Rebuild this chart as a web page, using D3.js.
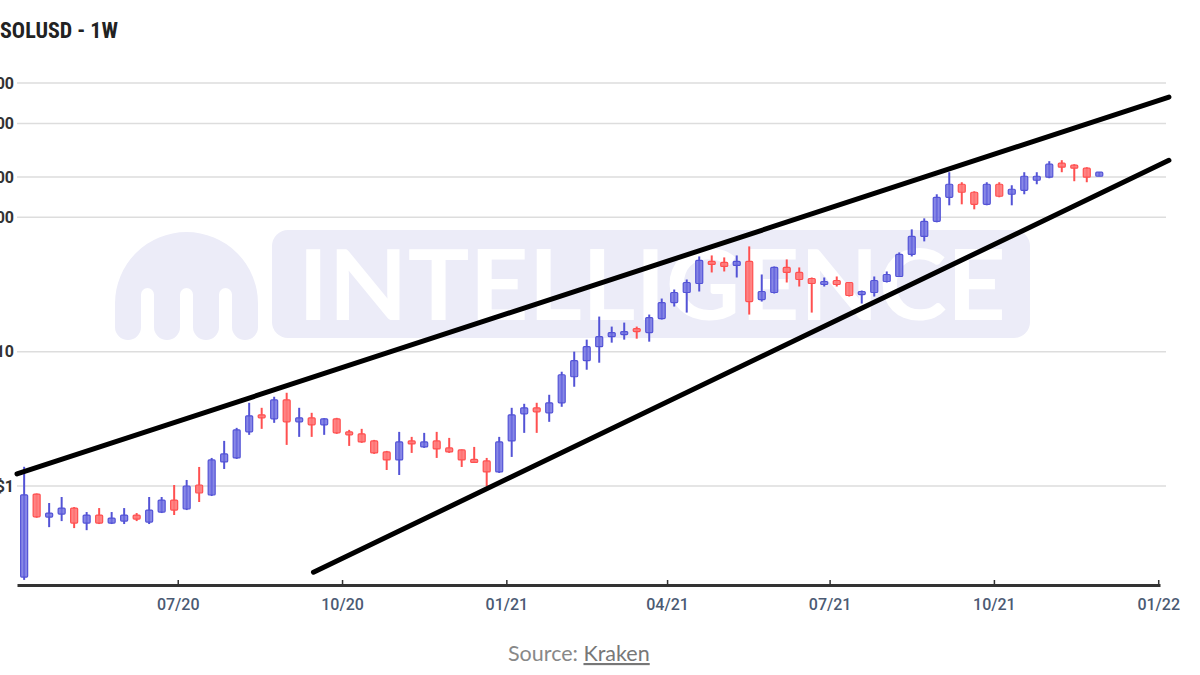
<!DOCTYPE html>
<html><head><meta charset="utf-8">
<script src="https://cdn.jsdelivr.net/npm/d3@7"></script>
<style>html,body{margin:0;padding:0;background:#fff;} svg{display:block;}</style>
</head><body>
<svg id="chart" width="1200" height="675"></svg>
<script>
// ---- data ----
const firstWeek = "2020-04-06";   // weekly candles, one per week
const opens  = [0.21,0.87,0.587,0.618,0.685,0.530,0.608,0.530,0.548,0.608,0.539,0.640,0.786,0.674,1.017,0.857,1.51,1.618,2.529,3.388,3.162,4.383,3.004,3.217,2.852,3.162,2.529,2.444,2.167,1.794,1.563,2.167,1.954,2.167,1.92,1.856,1.563,1.537,1.272,2.167,3.446,3.82,3.506,4.163,6.507,8.566,10.9,12.94,13.4,14.85,13.87,17.63,23.21,27.56,32.17,46.95,46.15,43.83,46.95,24.43,27.56,42.36,38.87,35.06,31.62,33.88,32.73,26.63,27.56,33.3,36.28,52.96,72.15,93.36,141.0,176.3,153.7,125.0,176.3,148.5,159.0,188.9,198.9,252.9,244.3,232.1,202.3];
const highs  = [1.39,0.88,0.747,0.828,0.697,0.640,0.685,0.640,0.685,0.629,0.828,0.828,1.017,1.109,1.386,1.618,2.167,2.709,4.163,3.82,4.616,4.943,3.82,3.506,3.2,3.217,2.618,2.663,2.204,1.825,2.529,2.321,2.486,2.529,2.281,1.87,1.954,1.618,2.321,3.82,4.092,4.163,4.776,7.091,10.0,12.29,18.25,15.37,16.46,15.37,18.89,24.86,29.02,34.45,51.17,52.05,50.3,52.05,60.76,37.55,43.08,48.59,42.36,35.66,35.66,36.28,33.0,28.52,36.28,39.54,54.81,81.37,98.3,148.5,216.7,182.5,156.3,182.5,182.5,173.3,216.7,216.7,261.8,266.3,248.6,236.1,216.7];
const lows   = [0.20,0.58,0.494,0.548,0.486,0.469,0.521,0.521,0.521,0.548,0.521,0.629,0.608,0.662,0.760,0.842,1.339,1.59,2.403,2.663,2.952,2.023,2.321,2.321,2.403,2.444,1.988,2.094,1.733,1.316,1.208,1.763,1.92,1.618,1.763,1.386,1.484,1.0,1.25,1.646,2.486,2.486,3.004,3.887,5.481,7.339,8.277,11.67,12.29,12.5,11.87,17.34,21.67,19.54,28.05,38.87,39.54,35.66,18.89,23.61,27.09,32.73,30.55,19.54,30.55,30.55,25.73,22.81,25.73,32.73,36.0,51.17,66.22,91.77,122.9,125.0,114.7,122.9,141.0,122.9,148.5,176.3,195.4,216.7,185.7,182.5,202.3];
const closes = [0.86,0.59,0.629,0.685,0.530,0.608,0.530,0.577,0.608,0.567,0.662,0.786,0.662,1.0,0.887,1.563,1.733,2.618,3.33,3.217,4.383,3.004,3.217,2.852,3.162,2.486,2.403,2.13,1.763,1.563,2.13,2.058,2.13,1.888,1.794,1.563,1.51,1.272,2.13,3.388,3.82,3.566,4.163,6.735,8.566,10.9,12.94,13.87,14.1,14.1,17.94,23.21,27.56,32.73,47.76,44.59,43.08,46.95,23.61,28.05,42.36,38.87,34.45,32.17,33.3,31.62,26.18,28.05,33.88,37.55,52.96,72.15,93.36,141.0,176.3,153.7,125.0,176.3,143.5,161.8,202.3,202.3,248.6,236.1,232.1,198.9,216.7];

const yTickValues = [1, 10, 100, 200, 500, 1000];
const yTickLabels = ["$1", "$10", "$100", "$200", "$500", "$1,000"];
const xTickDates  = ["2020-07-01","2020-10-01","2021-01-01","2021-04-01","2021-07-01","2021-10-01","2022-01-01"];
const upperTrend  = [["2020-04-02", 1.229], ["2022-01-07", 786]];
const lowerTrend  = [["2020-09-15", 0.228], ["2022-01-07", 266]];

// ---- setup ----
const parse = d3.timeParse("%Y-%m-%d");
const svg = d3.select("#chart");
const weeks = d3.range(opens.length).map(i => d3.timeWeek.offset(parse(firstWeek), i));
const candles = weeks.map((d, i) => ({date: d, o: opens[i], h: highs[i], l: lows[i], c: closes[i]}));

const x = d3.scaleTime().domain([parse("2020-04-02"), parse("2022-01-02")]).range([17, 1160]);
const y = d3.scaleLog().domain([1, 1000]).range([486, 83]);

// ---- watermark ----
const wm = svg.append("g").attr("class", "watermark");
const wmColor = "#ececf8";
wm.append("rect").attr("x", 272).attr("y", 230).attr("width", 758).attr("height", 108).attr("rx", 16).attr("fill", wmColor);
wm.append("text").attr("x", 298).attr("y", 320).attr("textLength", 708).attr("lengthAdjust", "spacingAndGlyphs")
  .attr("font-family", "Lato, 'Open Sans', sans-serif").attr("font-weight", 700).attr("font-size", 98).attr("fill", "#ffffff").text("INTELLIGENCE");
// logo: dome with four legs
(function(){
  const lx = 115, rx = 258, top = 232, bot = 340, legW = 26, gap = (rx - lx - 4*legW)/3, gapTop = 288;
  const r = (rx - lx)/2;
  let p = `M${lx},${top + r} A${r},${r} 0 0 1 ${rx},${top + r} L${rx},${bot - legW/2}`;
  p += ` A${legW/2},${legW/2} 0 0 1 ${rx - legW},${bot - legW/2}`;
  for (let k = 2; k >= 0; k--) {
    const gr = lx + (k+1)*legW + k*gap + gap;
    const gl = gr - gap;
    p += ` L${gr},${gapTop + gap/2} A${gap/2},${gap/2} 0 0 0 ${gl},${gapTop + gap/2}`;
    if (k > 0) p += ` L${gl},${bot - legW/2} A${legW/2},${legW/2} 0 0 1 ${gl - legW},${bot - legW/2}`;
  }
  p += ` L${lx + legW},${bot - legW/2} A${legW/2},${legW/2} 0 0 1 ${lx},${bot - legW/2} Z`;
  wm.append("path").attr("d", p).attr("fill", wmColor);
})();

// ---- gridlines ----
svg.append("g").selectAll("line").data(yTickValues).join("line")
  .attr("x1", 17).attr("x2", 1166).attr("y1", d => y(d)).attr("y2", d => y(d))
  .attr("stroke", "#dddddd").attr("stroke-width", 1.5);

svg.append("g").selectAll("text").data(yTickValues).join("text")
  .attr("x", 14).attr("y", d => y(d)).attr("dy", "0.36em").attr("text-anchor", "end")
  .attr("font-family", "Roboto, 'Liberation Sans', sans-serif").attr("font-weight", 700).attr("font-size", 16).attr("fill", "#333")
  .text((d, i) => yTickLabels[i]);

// ---- candles ----
const blue = {fill: "rgba(110,110,224,0.82)", stroke: "#5353d6"};
const red  = {fill: "rgba(255,120,120,0.9)", stroke: "#ff5050"};
const bw = 7;
const cg = svg.append("g").selectAll("g").data(candles).join("g");
cg.append("line")
  .attr("x1", d => x(d.date)).attr("x2", d => x(d.date))
  .attr("y1", d => y(d.h)).attr("y2", d => y(d.l))
  .attr("stroke", d => d.c >= d.o ? blue.stroke : red.stroke).attr("stroke-width", 2);
cg.append("rect")
  .attr("x", d => x(d.date) - bw/2).attr("width", bw)
  .attr("y", d => { const t = Math.min(y(d.o), y(d.c)), b = Math.max(y(d.o), y(d.c)); return b - t < 3 ? (t + b)/2 - 1.5 : t; })
  .attr("height", d => Math.max(3, Math.abs(y(d.o) - y(d.c))))
  .attr("rx", 1)
  .attr("fill", d => d.c >= d.o ? blue.fill : red.fill)
  .attr("stroke", d => d.c >= d.o ? blue.stroke : red.stroke).attr("stroke-width", 1.2);

// ---- trend lines ----
const line = d3.line().x(d => x(parse(d[0]))).y(d => y(d[1]));
svg.append("g").selectAll("path").data([upperTrend, lowerTrend]).join("path")
  .attr("d", line).attr("fill", "none").attr("stroke", "#000").attr("stroke-width", 5).attr("stroke-linecap", "round");

// ---- x axis ----
const xAxis = d3.axisBottom(x).tickValues(xTickDates.map(parse)).tickFormat(d3.timeFormat("%m/%y"))
  .tickSizeInner(-5).tickSizeOuter(0).tickPadding(14);
const ax = svg.append("g").attr("transform", "translate(0,585)").call(xAxis);
ax.select(".domain").attr("stroke", "#333").attr("stroke-width", 3);
ax.selectAll(".tick line").attr("stroke", "#333").attr("stroke-width", 1.5);
ax.selectAll(".tick text").attr("font-family", "Roboto, sans-serif").attr("font-weight", 500).attr("font-size", 16).attr("fill", "#4b5a73");

// ---- title & source ----
svg.append("text").attr("x", 0).attr("y", 38)
  .attr("font-family", "'Liberation Sans Narrow', 'Roboto Condensed', Roboto, sans-serif").attr("font-weight", 700).attr("font-size", 22).attr("fill", "#222")
  .text("SOLUSD - 1W");
const src = svg.append("text").attr("x", 508).attr("y", 661)
  .attr("font-family", "Lato, 'Open Sans', sans-serif").attr("font-size", 21.5).attr("fill", "#888");
src.append("tspan").text("Source: ");
src.append("tspan").attr("text-decoration", "underline").attr("fill", "#777").text("Kraken");
</script>
</body></html>
